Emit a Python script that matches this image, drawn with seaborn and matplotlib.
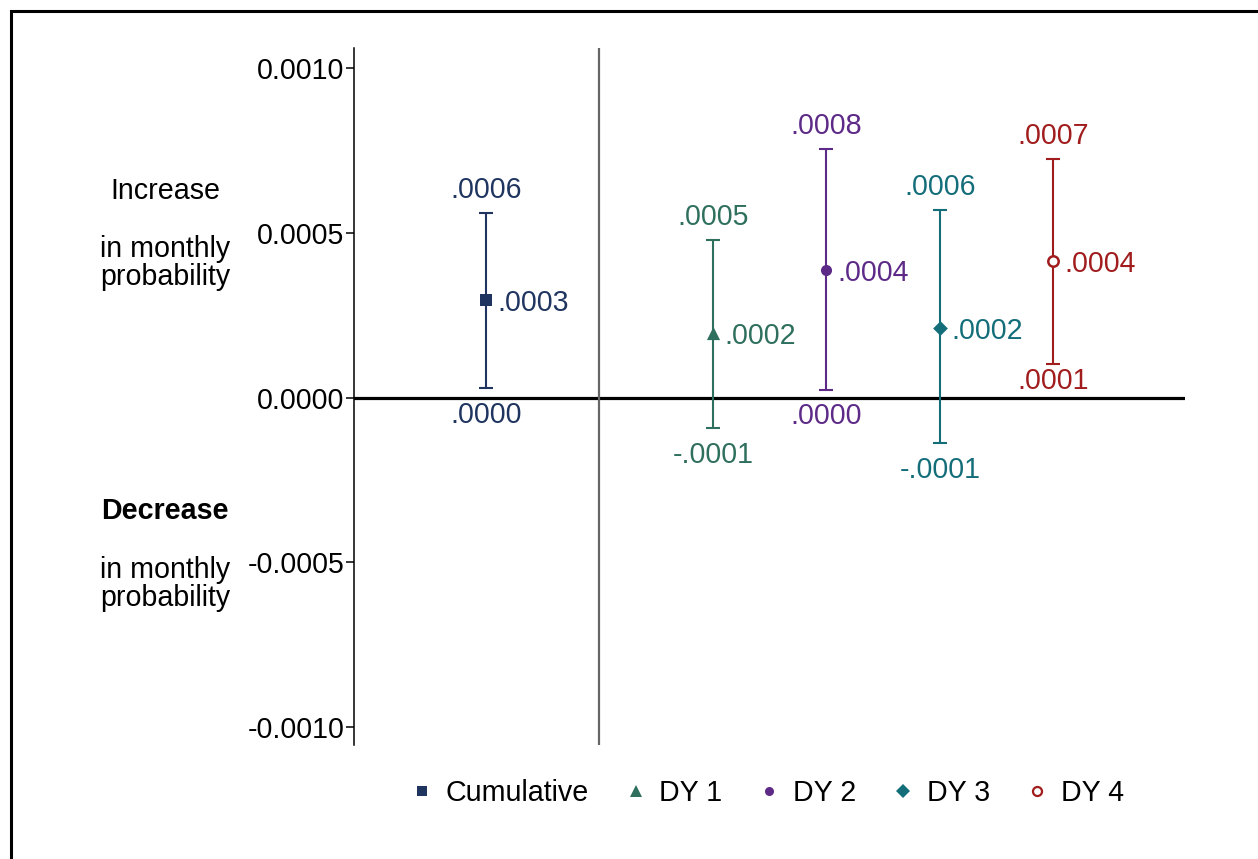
import matplotlib
matplotlib.use("Agg")
import matplotlib.pyplot as plt
import seaborn as sns
import pandas as pd
from matplotlib.lines import Line2D
from matplotlib.patches import Rectangle

# ---- data ----
groups = ["Cumulative", "DY 1", "DY 2", "DY 3", "DY 4"]
estimates = [0.000297, 0.000197, 0.000388, 0.000212, 0.000415]
ci_low = [0.000030, -0.000094, 0.000024, -0.000139, 0.000103]
ci_high = [0.000561, 0.000479, 0.000755, 0.000570, 0.000724]
y_ticks = [0.0010, 0.0005, 0.0000, -0.0005, -0.0010]

# ---- styles ----
colors = ["#1f3560", "#2f6f5e", "#5e2a88", "#146e7a", "#a11d1d"]
markers = ["s", "^", "o", "D", "o"]
msizes = [8, 9.5, 8, 7.5, 7.5]
filled = [True, True, True, True, False]
lower_off = [-35, -35, -34, -35, -25]

sns.set_style("white")
plt.rcParams["font.family"] = ["Liberation Sans", "DejaVu Sans"]
plt.rcParams["axes.unicode_minus"] = False
plt.rcParams["text.color"] = "black"
FS = 20.6

# positions: Cumulative, a divider, then the DY groups
xpos = [0] + list(range(2, 2 + len(groups) - 1))
divider = 1
df = pd.DataFrame({"group": groups, "x": xpos, "est": estimates,
                   "lo": ci_low, "hi": ci_high})

W, H = 1258, 859
fig = plt.figure(figsize=(W / 100, H / 100), dpi=100)
ax = fig.add_axes([354 / W, 1 - 745 / H, (1185 - 354) / W, (745 - 48) / H])


def fmt(v):
    return f"{v:.4f}".replace("0.", ".", 1)


for i, row in df.iterrows():
    c = colors[i]
    ax.errorbar(row["x"], row["est"],
                yerr=[[row["est"] - row["lo"]], [row["hi"] - row["est"]]],
                fmt="none", ecolor=c, elinewidth=1.5, capsize=4.7,
                capthick=1.5, zorder=2)
    sns.scatterplot(x=[row["x"]], y=[row["est"]], marker=markers[i],
                    s=msizes[i] ** 2, color=c if filled[i] else "white",
                    edgecolor=c, linewidth=0 if filled[i] else 1.8,
                    ax=ax, zorder=3, legend=False)
    ax.annotate(fmt(row["est"]), (row["x"], row["est"]), xytext=(11, -11.5),
                textcoords="offset pixels", ha="left", va="baseline",
                color=c, fontsize=FS)
    ax.annotate(fmt(row["hi"]), (row["x"], row["hi"]), xytext=(0, 14.5),
                textcoords="offset pixels", ha="center", va="baseline",
                color=c, fontsize=FS)
    ax.annotate(fmt(row["lo"]), (row["x"], row["lo"]), xytext=(0, lower_off[i]),
                textcoords="offset pixels", ha="center", va="baseline",
                color=c, fontsize=FS)

ax.axhline(0, color="black", lw=2.3, zorder=1)
ax.axvline(divider, color="#666666", lw=1.6, zorder=1)

ax.set_xlim(-1.163, 6.159)
ax.set_ylim(-0.0010546, 0.0010607)
ax.set_yticks(y_ticks)
ax.set_yticklabels([f"{t:.4f}" for t in y_ticks], fontsize=FS)
ax.set_xticks([])
ax.set_xlabel("")
ax.set_ylabel("")
for s in ["top", "right", "bottom"]:
    ax.spines[s].set_visible(False)
ax.spines["left"].set_color("black")
ax.spines["left"].set_linewidth(1.1)
ax.tick_params(axis="y", direction="out", length=5.8, width=1.1, pad=1,
               colors="black", left=True)

# side annotations
cx = 165 / W
tk = dict(ha="center", va="baseline", fontsize=FS, color="black")
fig.text(cx, 1 - 199 / H, "Increase", **tk)
fig.text(cx, 1 - 257 / H, "in monthly", **tk)
fig.text(cx, 1 - 285 / H, "probability", **tk)
fig.text(cx, 1 - 519 / H, "Decrease", fontweight="bold", **tk)
fig.text(cx, 1 - 578 / H, "in monthly", **tk)
fig.text(cx, 1 - 606 / H, "probability", **tk)

# legend
lsizes = [7, 8.5, 6.5, 7, 6.5]
handles = [Line2D([], [], ls="none", marker=markers[i], markersize=lsizes[i],
                  markerfacecolor=colors[i] if filled[i] else "white",
                  markeredgecolor=colors[i],
                  markeredgewidth=0 if filled[i] else 1.6)
           for i in range(len(groups))]
leg = fig.legend(handles, groups, loc="center",
                 bbox_to_anchor=(767 / W, 1 - 793 / H),
                 ncol=5, frameon=False, fontsize=FS, handlelength=0.8,
                 handletextpad=0.42, columnspacing=1.25)
for t in leg.get_texts():
    t.set_color("black")

# outer frame (top/left visible)
fig.add_artist(Rectangle((11 / W, -0.2), 2, (1 - 11.5 / H) + 0.2,
                         transform=fig.transFigure, fill=False,
                         edgecolor="black", lw=2.2, clip_on=False))

fig.savefig("out.png", dpi=100)
